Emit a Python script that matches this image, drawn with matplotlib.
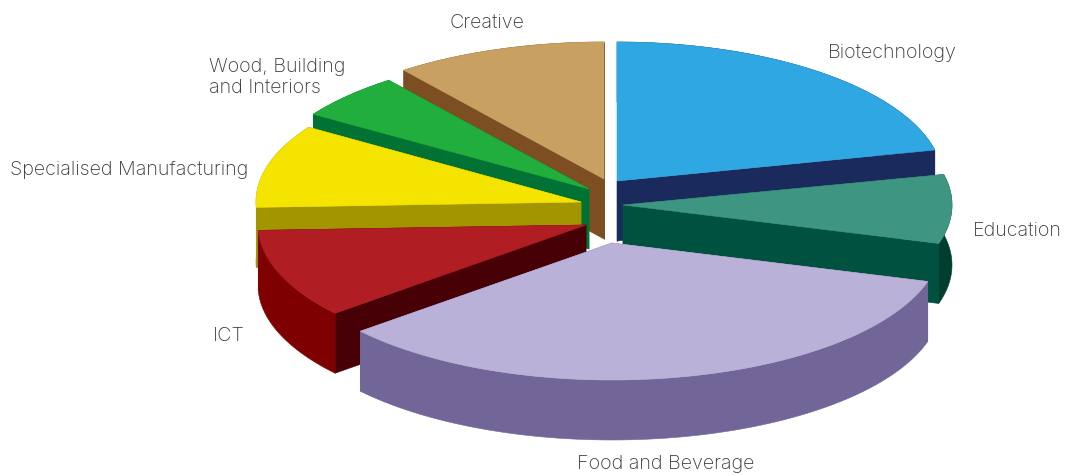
import numpy as np
import matplotlib
matplotlib.use("Agg")
import matplotlib.pyplot as plt
from matplotlib.patches import Polygon

sectors = ["Biotechnology", "Education", "Food and Beverage", "ICT",
           "Specialised Manufacturing", "Wood, Building\nand Interiors", "Creative"]
shares = [21.4, 8.1, 34.3, 10.5, 9.8, 5.4, 10.4]

DEPTH = 60

# where each exploded slice has its tip, and its radii in pixels
tip_x = [617, 623, 612, 586, 581, 589, 604]
tip_y = [181, 205, 243, 225, 202, 189, 179]
slice_rx = [326, 329, 329, 328, 325, 329, 329]
slice_ry = [139, 137, 137, 137, 137, 137, 137]

top_colors = ["#2FA7E2", "#3E9682", "#BAB1D8", "#B01E23", "#F4E400", "#22AE3D", "#C8A062"]
cut_colors = ["#1B2A5C", "#00513F", "#726698", "#470006", "#A39500", "#007233", "#7D4E21"]
rim_colors = ["#1B2A5C", "#003F30", "#726698", "#7F0000", "#A39500", "#007233", "#7D4E21"]

label_x = [828, 973, 577, 213, 10, 209, 450]
label_y = [53, 231, 464, 336, 170, 77, 23]

# back slices first so the front ones cover them
draw_order = [6, 5, 0, 4, 1, 3, 2]


def add_face(ax, x, y, color):
    ax.add_patch(Polygon(np.column_stack([x, y]), closed=True, facecolor=color,
                         edgecolor=color, linewidth=0.4))


def draw_slice(ax, i, start, end):
    t = np.radians(np.linspace(start, end, 80))
    x0, y0 = tip_x[i], tip_y[i]
    arc_x = x0 + slice_rx[i] * np.cos(t)
    arc_y = y0 - slice_ry[i] * np.sin(t)

    # cut faces on both sides of the slice
    for px, py in [(arc_x[0], arc_y[0]), (arc_x[-1], arc_y[-1])]:
        add_face(ax, [x0, px, px, x0], [y0, py, py + DEPTH, y0 + DEPTH], cut_colors[i])

    # outer rim
    add_face(ax, np.r_[arc_x, arc_x[::-1]], np.r_[arc_y, arc_y[::-1] + DEPTH], rim_colors[i])

    # top surface
    add_face(ax, np.r_[x0, arc_x], np.r_[y0, arc_y], top_colors[i])


fig = plt.figure(figsize=(10.68, 4.75), dpi=100)
ax = fig.add_axes([0, 0, 1, 1])
ax.set_xlim(0, 1068)
ax.set_ylim(475, 0)
ax.axis("off")

sweeps = np.array(shares) / sum(shares) * 360
ends = 90 - np.cumsum(sweeps)
starts = ends + sweeps

for i in draw_order:
    draw_slice(ax, i, starts[i], ends[i])

for name, x, y in zip(sectors, label_x, label_y):
    ax.text(x, y, name, family="Inter", fontweight="light", fontsize=14.2, color="#3A3A3A",
            ha="left", va="center", linespacing=1.2)

fig.savefig("out.png", dpi=100)
